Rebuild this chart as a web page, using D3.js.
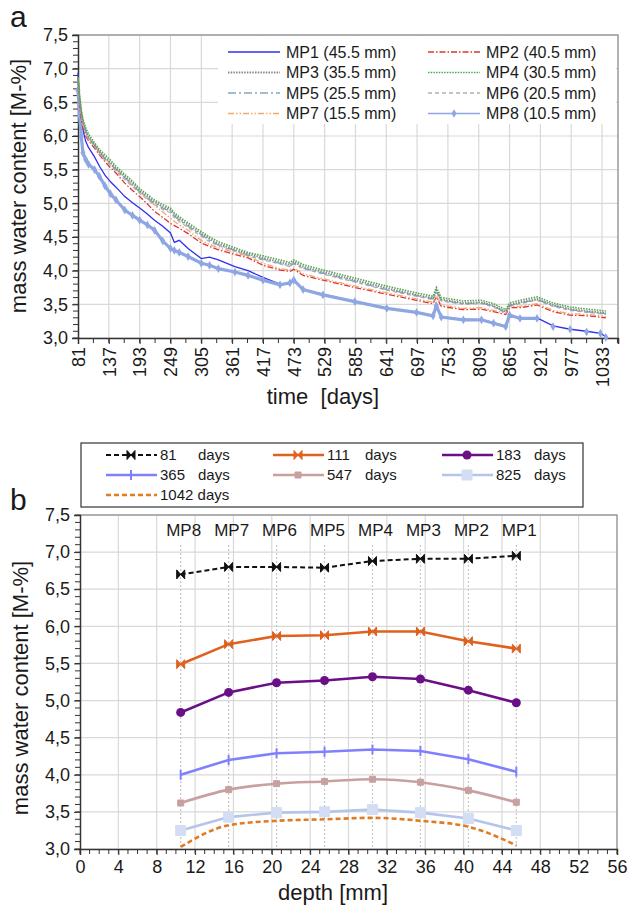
<!DOCTYPE html>
<html lang="en">
<head>
<meta charset="UTF-8" />
<title>mass water content</title>
<style>
  body { margin: 0; background: #fff; }
  svg text { font-family: "Liberation Sans", Arial, sans-serif; fill: #1a1a1a; }
</style>
</head>
<body>
<svg id="chart" width="628" height="905"></svg>

<script src="https://d3js.org/d3.v7.min.js"></script>
<script>
  // ---- panel a : time series per measuring point ----
  const days = [81, 84, 87, 90, 95, 100, 111, 120, 130, 140, 150, 166, 180, 193, 207, 220, 235, 249, 256, 265,
    281, 305, 320, 336, 366, 390, 417, 448, 466, 473, 490, 526, 584, 642, 696, 726, 732, 741, 781, 814,
    836, 858, 865, 884, 915, 944, 975, 1005, 1030, 1040];

  const mp1 = [6.94, 6.39, 6.20, 6.09, 5.92, 5.83, 5.69, 5.55, 5.42, 5.32, 5.24, 5.10, 5.01, 4.93, 4.84, 4.75, 4.66, 4.56, 4.42, 4.45,
    4.33, 4.18, 4.20, 4.16, 4.06, 4.00, 3.90, 3.80, 3.80, 3.86, 3.72, 3.65, 3.54, 3.44, 3.38, 3.33, 3.48, 3.31, 3.28, 3.27,
    3.23, 3.17, 3.33, 3.30, 3.30, 3.18, 3.13, 3.10, 3.07, 3.02];
  const mp2 = [6.85, 6.45, 6.24, 6.12, 6.00, 5.93, 5.82, 5.72, 5.62, 5.53, 5.45, 5.30, 5.19, 5.10, 4.99, 4.88, 4.79, 4.70, 4.67, 4.63,
    4.55, 4.41, 4.36, 4.31, 4.24, 4.19, 4.08, 4.01, 3.99, 4.02, 3.93, 3.86, 3.75, 3.65, 3.56, 3.51, 3.61, 3.47, 3.42, 3.43,
    3.39, 3.35, 3.45, 3.45, 3.49, 3.39, 3.34, 3.33, 3.31, 3.30];
  const mp3 = [6.86, 6.56, 6.35, 6.21, 6.08, 5.99, 5.87, 5.77, 5.68, 5.60, 5.52, 5.40, 5.30, 5.19, 5.10, 5.02, 4.95, 4.90, 4.83, 4.77,
    4.68, 4.55, 4.47, 4.40, 4.31, 4.25, 4.19, 4.13, 4.09, 4.13, 4.06, 3.98, 3.86, 3.74, 3.64, 3.59, 3.71, 3.57, 3.52, 3.53,
    3.48, 3.39, 3.49, 3.53, 3.58, 3.49, 3.43, 3.40, 3.38, 3.37];
  const mp4 = [6.88, 6.60, 6.39, 6.25, 6.12, 6.03, 5.90, 5.80, 5.72, 5.64, 5.55, 5.43, 5.33, 5.22, 5.13, 5.05, 4.98, 4.93, 4.86, 4.80,
    4.71, 4.58, 4.50, 4.43, 4.34, 4.27, 4.22, 4.16, 4.12, 4.16, 4.09, 4.01, 3.89, 3.77, 3.67, 3.62, 3.75, 3.60, 3.55, 3.56,
    3.51, 3.42, 3.52, 3.56, 3.61, 3.52, 3.46, 3.43, 3.41, 3.40];
  const mp5 = [6.84, 6.54, 6.33, 6.19, 6.06, 5.97, 5.86, 5.75, 5.66, 5.58, 5.50, 5.38, 5.27, 5.17, 5.08, 5.00, 4.93, 4.88, 4.81, 4.75,
    4.66, 4.53, 4.45, 4.38, 4.30, 4.23, 4.17, 4.11, 4.07, 4.11, 4.04, 3.96, 3.84, 3.72, 3.63, 3.58, 3.69, 3.56, 3.51, 3.52,
    3.47, 3.38, 3.48, 3.52, 3.57, 3.48, 3.42, 3.39, 3.37, 3.36];
  const mp6 = [6.83, 6.52, 6.31, 6.17, 6.04, 5.95, 5.85, 5.74, 5.64, 5.56, 5.48, 5.35, 5.25, 5.15, 5.06, 4.98, 4.91, 4.86, 4.79, 4.73,
    4.64, 4.51, 4.43, 4.37, 4.29, 4.22, 4.16, 4.10, 4.06, 4.10, 4.03, 3.95, 3.83, 3.71, 3.62, 3.57, 3.68, 3.55, 3.50, 3.51,
    3.46, 3.37, 3.47, 3.51, 3.56, 3.47, 3.41, 3.38, 3.36, 3.35];
  const mp7 = [6.86, 6.50, 6.30, 6.17, 6.05, 5.97, 5.86, 5.77, 5.67, 5.59, 5.51, 5.38, 5.26, 5.17, 5.07, 4.97, 4.87, 4.78, 4.73, 4.68,
    4.60, 4.45, 4.39, 4.34, 4.27, 4.21, 4.11, 4.03, 4.01, 4.04, 3.95, 3.88, 3.77, 3.67, 3.58, 3.53, 3.63, 3.49, 3.44, 3.45,
    3.41, 3.37, 3.47, 3.47, 3.51, 3.41, 3.36, 3.35, 3.33, 3.32];
  const mp8 = [6.68, 6.30, 5.99, 5.75, 5.65, 5.58, 5.50, 5.40, 5.26, 5.14, 5.05, 4.90, 4.82, 4.75, 4.68, 4.60, 4.44, 4.33, 4.30, 4.27,
    4.21, 4.11, 4.08, 4.03, 3.98, 3.93, 3.86, 3.79, 3.82, 3.86, 3.72, 3.64, 3.54, 3.44, 3.38, 3.33, 3.48, 3.31, 3.27, 3.27,
    3.22, 3.17, 3.34, 3.29, 3.29, 3.17, 3.13, 3.09, 3.07, 3.01];

  const timeTicks = d3.range(81, 1034, 56);

  // ---- panel b : depth profiles at given days ----
  const depths = [10.5, 15.5, 20.5, 25.5, 30.5, 35.5, 40.5, 45.5];
  const mpNames = ["MP8", "MP7", "MP6", "MP5", "MP4", "MP3", "MP2", "MP1"];
  const profileDays = ["81", "111", "183", "365", "547", "825", "1042"];
  const p81 = [6.70, 6.80, 6.80, 6.79, 6.88, 6.91, 6.91, 6.95];
  const p111 = [5.49, 5.76, 5.87, 5.88, 5.93, 5.93, 5.80, 5.70];
  const p183 = [4.84, 5.11, 5.24, 5.27, 5.32, 5.29, 5.14, 4.97];
  const p365 = [4.00, 4.20, 4.29, 4.31, 4.34, 4.32, 4.21, 4.04];
  const p547 = [3.62, 3.80, 3.88, 3.91, 3.94, 3.90, 3.79, 3.63];
  const p825 = [3.25, 3.43, 3.49, 3.50, 3.53, 3.49, 3.41, 3.25];
  const p1042 = [3.03, 3.32, 3.38, 3.40, 3.42, 3.38, 3.30, 3.05];

  const svg = d3.select("#chart");
  const comma = (v) => d3.format(".1f")(v).replace(".", ",");

  // frame with grid, ticks and border
  function frame(x, y, opt) {
    const [x0, x1] = x.range();
    const [y0, y1] = y.range(); // y0 bottom
    const g = svg.append("g");

    g.selectAll(".hg").data(d3.range(3, 7.51, 0.5)).enter().append("line")
      .attr("x1", x0).attr("x2", x1).attr("y1", d => y(d)).attr("y2", d => y(d))
      .attr("stroke", "#d9d9d9").attr("stroke-width", 1.2);
    g.selectAll(".vg").data(opt.vgrid).enter().append("line")
      .attr("x1", d => x(d)).attr("x2", d => x(d)).attr("y1", y0).attr("y2", y1)
      .attr("stroke", "#d9d9d9").attr("stroke-width", 1.2);

    // border top / right
    g.append("path").attr("d", `M${x0},${y1}H${x1}V${y0}`)
      .attr("fill", "none").attr("stroke", "#9a9a9a").attr("stroke-width", 1.5);

    // minor ticks
    g.selectAll(".ym").data(d3.range(3, 7.51, 0.1)).enter().append("line")
      .attr("x1", x0 - 5).attr("x2", x0).attr("y1", d => y(d)).attr("y2", d => y(d))
      .attr("stroke", "#333");
    g.selectAll(".xm").data(opt.xminor).enter().append("line")
      .attr("x1", d => x(d)).attr("x2", d => x(d)).attr("y1", y0).attr("y2", y0 + 5)
      .attr("stroke", "#333");

    const ya = g.append("g").attr("transform", `translate(${x0},0)`)
      .call(d3.axisLeft(y).tickValues(d3.range(3, 7.51, 0.5)).tickFormat(comma).tickSize(6).tickPadding(4));
    ya.selectAll("text").attr("font-size", 18);

    const xa = g.append("g").attr("transform", `translate(0,${y0})`)
      .call(d3.axisBottom(x).tickValues(opt.xticks).tickFormat(d3.format("d")).tickSize(6).tickPadding(5));
    xa.selectAll("text").attr("font-size", 18);
    g.selectAll(".domain").attr("stroke", "#333").attr("stroke-width", 1.5);
    g.selectAll(".tick line").attr("stroke", "#333");
    g.selectAll(".tick text").attr("fill", "#1a1a1a").attr("font-family", "Liberation Sans, Arial, sans-serif");
    return { g, xa, ya };
  }

  // ============ panel a ============
  const xa = d3.scaleLinear().domain([81, 1062]).range([78, 618]);
  const ya = d3.scaleLinear().domain([3, 7.5]).range([338, 35]);

  const fa = frame(xa, ya, {
    vgrid: timeTicks.slice(1),
    xticks: timeTicks,
    xminor: d3.range(109, 1062, 28)
  });
  fa.xa.selectAll("text")
    .attr("transform", "rotate(-90)")
    .attr("text-anchor", "end")
    .attr("x", -9).attr("y", 0).attr("dy", "0.35em");

  const seriesA = [
    { name: "MP1 (45.5 mm)", v: mp1, color: "#2f2ff0", dash: null, w: 1.3 },
    { name: "MP2 (40.5 mm)", v: mp2, color: "#e03333", dash: "6,2,1.5,2", w: 1.3 },
    { name: "MP3 (35.5 mm)", v: mp3, color: "#8a8a8a", dash: "1.5,1.2", w: 1.8 },
    { name: "MP4 (30.5 mm)", v: mp4, color: "#4fa84a", dash: "1.5,1.2", w: 1.6 },
    { name: "MP5 (25.5 mm)", v: mp5, color: "#7fa6c4", dash: "8,3,2,3", w: 1.3 },
    { name: "MP6 (20.5 mm)", v: mp6, color: "#b0b0b0", dash: "4,3", w: 1.3 },
    { name: "MP7 (15.5 mm)", v: mp7, color: "#f2a868", dash: "6,2,1.5,2,1.5,2", w: 1.3 },
    { name: "MP8 (10.5 mm)", v: mp8, color: "#8ea6e2", dash: null, w: 1.3, marker: true }
  ];

  const lineA = d3.line().x(d => xa(d[0])).y(d => ya(d[1]));
  const ga = svg.append("g");
  const drawOrder = [0, 7, 1, 6, 5, 4, 2, 3];
  drawOrder.forEach(i => {
    const s = seriesA[i];
    const pts = days.map((d, k) => [d, s.v[k]]);
    if (s.marker) {
      ga.append("path").datum(pts.filter(p => p[0] <= 915)).attr("d", lineA)
        .attr("fill", "none").attr("stroke", s.color).attr("stroke-width", 3.2);
      ga.selectAll(".m8").data(pts).enter().append("path")
        .attr("transform", p => `translate(${xa(p[0])},${ya(p[1])})`)
        .attr("d", d3.symbol(d3.symbolDiamond, 22))
        .attr("fill", s.color);
    } else {
      ga.append("path").datum(pts).attr("d", lineA)
        .attr("fill", "none").attr("stroke", s.color).attr("stroke-width", s.w)
        .attr("stroke-dasharray", s.dash);
    }
  });

  // legend a
  const la = svg.append("g");
  la.append("rect").attr("x", 218).attr("y", 36).attr("width", 398).attr("height", 88).attr("fill", "#fff");
  seriesA.forEach((s, i) => {
    const col = i % 2, row = Math.floor(i / 2);
    const lx = col ? 428 : 228, ty = 52 + row * 20.5;
    la.append("line").attr("x1", lx).attr("x2", lx + 52).attr("y1", ty).attr("y2", ty)
      .attr("stroke", s.color).attr("stroke-width", s.marker ? 1.3 : s.w).attr("stroke-dasharray", s.dash);
    if (s.marker) {
      la.append("path").attr("transform", `translate(${lx + 26},${ty})`)
        .attr("d", d3.symbol(d3.symbolDiamond, 22)).attr("fill", s.color);
    }
    la.append("text").attr("x", lx + 58).attr("y", ty).attr("dy", "0.36em")
      .attr("font-size", 16).text(s.name);
  });

  svg.append("text").attr("x", 26).attr("y", 186).attr("transform", "rotate(-90,26,186)")
    .attr("text-anchor", "middle").attr("font-size", 22).text("mass water content [M-%]");
  svg.append("text").attr("x", 323).attr("y", 404).attr("text-anchor", "middle")
    .attr("font-size", 22).attr("xml:space", "preserve").text("time  [days]");
  svg.append("text").attr("x", 10).attr("y", 27).attr("font-size", 30).text("a");

  // ============ panel b ============
  const xb = d3.scaleLinear().domain([0, 56]).range([80, 617]);
  const yb = d3.scaleLinear().domain([3, 7.5]).range([849, 515]);

  frame(xb, yb, {
    vgrid: d3.range(4, 56, 4),
    xticks: d3.range(0, 57, 4),
    xminor: d3.range(0, 57, 1)
  });

  // dotted lines at the measuring points
  const gb = svg.append("g");
  gb.selectAll(".mpl").data(depths).enter().append("line")
    .attr("x1", d => xb(d)).attr("x2", d => xb(d)).attr("y1", 545).attr("y2", 849)
    .attr("stroke", "#c8c8c8").attr("stroke-width", 1.2).attr("stroke-dasharray", "2,2");
  gb.selectAll(".mpt").data(mpNames).enter().append("text")
    .attr("x", (d, i) => xb(depths[i]) + 3).attr("y", 536)
    .attr("text-anchor", "middle").attr("font-size", 17).text(d => d);

  const bow = "M-4,-4.5L4,4.5V-4.5L-4,4.5Z";
  const seriesB = [
    { v: p81, color: "#111", dash: "5,3", w: 2, marker: bow, mfill: "#111", curve: d3.curveLinear },
    { v: p111, color: "#e0601e", dash: null, w: 2.6, marker: bow, mfill: "#e0601e", curve: d3.curveLinear },
    { v: p183, color: "#6b0f86", dash: null, w: 2.6, marker: "circle", mfill: "#6b0f86", curve: d3.curveLinear },
    { v: p365, color: "#8080ff", dash: null, w: 2.6, marker: "M0,-5V5", mfill: "#8080ff", curve: d3.curveLinear },
    { v: p547, color: "#c8a0a0", dash: null, w: 2.6, marker: "M-3,-3H3V3H-3Z", mfill: "#c8a0a0", curve: d3.curveMonotoneX },
    { v: p825, color: "#b5c4ea", dash: null, w: 2.6, marker: "M-5,-5H5V5H-5Z", mfill: "#d3ddf3", curve: d3.curveLinear },
    { v: p1042, color: "#e07b22", dash: "5,3", w: 2.6, marker: null, curve: d3.curveMonotoneX }
  ];

  function drawMarker(sel, s) {
    if (s.marker === "circle") {
      sel.append("circle").attr("r", 4.5).attr("fill", s.mfill);
    } else if (s.marker) {
      sel.append("path").attr("d", s.marker).attr("fill", s.mfill)
        .attr("stroke", s.mfill).attr("stroke-width", s.marker === "M0,-5V5" ? 2 : 1);
    }
  }

  seriesB.slice().reverse().forEach(s => {
    const pts = depths.map((d, k) => [d, s.v[k]]);
    gb.append("path").datum(pts)
      .attr("d", d3.line().curve(s.curve).x(d => xb(d[0])).y(d => yb(d[1])))
      .attr("fill", "none").attr("stroke", s.color).attr("stroke-width", s.w)
      .attr("stroke-dasharray", s.dash);
    pts.forEach(p => {
      const m = gb.append("g").attr("transform", `translate(${xb(p[0])},${yb(p[1])})`);
      drawMarker(m, s);
    });
  });

  // legend b
  const lb = svg.append("g");
  lb.append("rect").attr("x", 81).attr("y", 443).attr("width", 502).attr("height", 64)
    .attr("fill", "#fff").attr("stroke", "#333").attr("stroke-width", 1.2);
  const colX = [106, 273, 442];
  seriesB.forEach((s, i) => {
    const lx = colX[i % 3], ty = 455 + Math.floor(i / 3) * 20;
    lb.append("line").attr("x1", lx).attr("x2", lx + 51).attr("y1", ty).attr("y2", ty)
      .attr("stroke", s.color).attr("stroke-width", s.w).attr("stroke-dasharray", s.dash);
    const m = lb.append("g").attr("transform", `translate(${lx + 25},${ty})`);
    drawMarker(m, s);
    if (profileDays[i] === "1042") {
      lb.append("text").attr("x", lx + 54).attr("y", ty).attr("dy", "0.36em")
        .attr("font-size", 15).text(profileDays[i] + " days");
    } else {
      lb.append("text").attr("x", lx + 54).attr("y", ty).attr("dy", "0.36em")
        .attr("font-size", 15).text(profileDays[i]);
      lb.append("text").attr("x", lx + 92).attr("y", ty).attr("dy", "0.36em")
        .attr("font-size", 15).text("days");
    }
  });

  svg.append("text").attr("x", 28).attr("y", 688).attr("transform", "rotate(-90,28,688)")
    .attr("text-anchor", "middle").attr("font-size", 22).text("mass water content [M-%]");
  svg.append("text").attr("x", 333).attr("y", 900).attr("text-anchor", "middle")
    .attr("font-size", 22).text("depth [mm]");
  svg.append("text").attr("x", 10).attr("y", 510).attr("font-size", 30).text("b");
</script>
</body>
</html>
